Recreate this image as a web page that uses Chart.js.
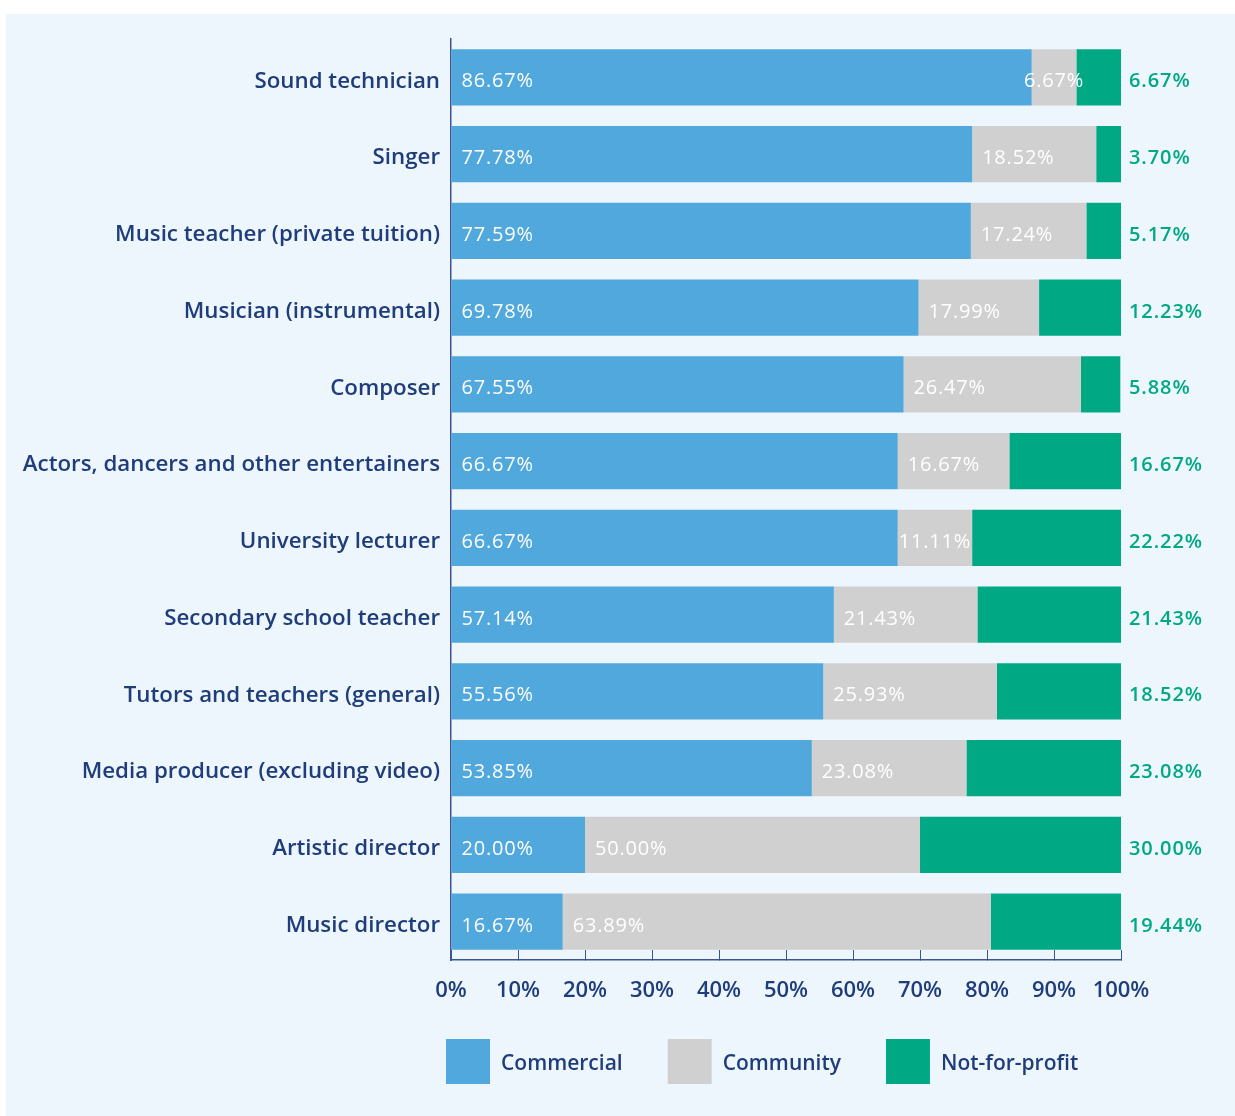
<!DOCTYPE html>
<html>
<head>
<meta charset="utf-8">
<script src="https://cdn.jsdelivr.net/npm/chart.js@4/dist/chart.umd.min.js"></script>
<style>
  html, body { margin: 0; padding: 0; background: #ffffff; }
  body { width: 1235px; height: 1116px; position: relative; overflow: hidden; }
  #panel { position: absolute; left: 6px; top: 14px; width: 1229px; height: 1102px; background: #EEF6FD; }
  canvas { display: block; }
</style>
</head>
<body>
<div id="panel"><canvas id="c" width="1229" height="1102"></canvas></div>
<script>
// Occupations (top to bottom) and the share of each sector, in percent
const categories = [
  'Sound technician',
  'Singer',
  'Music teacher (private tuition)',
  'Musician (instrumental)',
  'Composer',
  'Actors, dancers and other entertainers',
  'University lecturer',
  'Secondary school teacher',
  'Tutors and teachers (general)',
  'Media producer (excluding video)',
  'Artistic director',
  'Music director'
];
const commercial   = [86.67, 77.78, 77.59, 69.78, 67.55, 66.67, 66.67, 57.14, 55.56, 53.85, 20.00, 16.67];
const community    = [ 6.67, 18.52, 17.24, 17.99, 26.47, 16.67, 11.11, 21.43, 25.93, 23.08, 50.00, 63.89];
const notForProfit = [ 6.67,  3.70,  5.17, 12.23,  5.88, 16.67, 22.22, 21.43, 18.52, 23.08, 30.00, 19.44];
const seriesNames  = ['Commercial', 'Community', 'Not-for-profit'];
const xTickValues  = [0, 10, 20, 30, 40, 50, 60, 70, 80, 90, 100];

const NAVY = '#1F3D7A';
const AXIS = '#3A5494';
const COLORS = ['#50A8DC', '#D0D0D0', '#00A984'];
const FONT = "'Open Sans', 'Noto Sans', sans-serif";

const fmt = v => v.toFixed(2) + '%';

// Value labels: inside the first two segments, outside the bar for the last one
const valueLabels = {
  id: 'valueLabels',
  afterDatasetsDraw(chart) {
    const ctx = chart.ctx;
    const area = chart.chartArea;
    ctx.save();
    ctx.textBaseline = 'alphabetic';
    chart.data.datasets.forEach((ds, di) => {
      const meta = chart.getDatasetMeta(di);
      meta.data.forEach((bar, i) => {
        const text = fmt(ds.data[i]);
        const start = Math.min(bar.base, bar.x);
        const end = Math.max(bar.base, bar.x);
        const baseline = bar.y + 10;
        if (di === 2) {
          ctx.font = '600 20px ' + FONT;
          ctx.letterSpacing = '0.9px';
          ctx.fillStyle = COLORS[2];
          ctx.textAlign = 'left';
          ctx.fillText(text, area.right + 8, baseline);
          return;
        }
        ctx.font = '400 20px ' + FONT;
        ctx.letterSpacing = '0.8px';
        ctx.fillStyle = '#ffffff';
        const w = ctx.measureText(text).width;
        if (w + 20 <= end - start) {
          ctx.textAlign = 'left';
          ctx.fillText(text, start + 10, baseline);
        } else {
          ctx.textAlign = 'center';
          ctx.fillText(text, (start + end) / 2, baseline);
        }
      });
    });
    ctx.restore();
  }
};

// Legend row of square swatches under the axis
const swatchLegend = {
  id: 'swatchLegend',
  afterDraw(chart) {
    const ctx = chart.ctx;
    const area = chart.chartArea;
    const box = 44, boxH = 45, gap = 11, spacing = 45;
    const top = area.bottom + 79;
    let x = area.left - 5;
    ctx.save();
    ctx.font = '600 21px ' + FONT;
    ctx.textBaseline = 'alphabetic';
    ctx.textAlign = 'left';
    chart.data.datasets.forEach(ds => {
      ctx.fillStyle = ds.backgroundColor;
      ctx.fillRect(x, top, box, boxH);
      x += box + gap;
      ctx.fillStyle = NAVY;
      ctx.fillText(ds.label, x, top + boxH / 2 + 8);
      x += ctx.measureText(ds.label).width + spacing;
    });
    ctx.restore();
  }
};

new Chart(document.getElementById('c'), {
  type: 'bar',
  data: {
    labels: categories,
    datasets: [
      { label: seriesNames[0], data: commercial,   backgroundColor: COLORS[0] },
      { label: seriesNames[1], data: community,    backgroundColor: COLORS[1] },
      { label: seriesNames[2], data: notForProfit, backgroundColor: COLORS[2] }
    ]
  },
  options: {
    indexAxis: 'y',
    responsive: false,
    animation: false,
    layout: { padding: { top: 25, right: 114, bottom: 96, left: 0 } },
    datasets: { bar: { barPercentage: 0.73, categoryPercentage: 1, borderWidth: 0 } },
    plugins: {
      legend: { display: false },
      tooltip: { enabled: false }
    },
    scales: {
      x: {
        stacked: true,
        min: 0,
        max: 100,
        afterBuildTicks: s => { s.ticks = xTickValues.map(v => ({ value: v })); },
        afterFit: s => { s.height = 60; },
        ticks: {
          callback: v => v + '%',
          color: NAVY,
          padding: 28,
          maxRotation: 0,
          autoSkip: false,
          font: { family: FONT, size: 22, weight: '600' }
        },
        grid: { drawOnChartArea: false, drawTicks: true, tickLength: -10, color: AXIS, lineWidth: 1 },
        border: { display: true, color: AXIS, width: 1.5 }
      },
      y: {
        stacked: true,
        afterFit: s => { s.width = 445; },
        ticks: {
          color: NAVY,
          padding: 11,
          labelOffset: 4,
          font: { family: FONT, size: 22.3, weight: '600' }
        },
        grid: { display: false, drawTicks: false },
        border: { display: true, color: AXIS, width: 1.5 }
      }
    }
  },
  plugins: [valueLabels, swatchLegend]
});
</script>
</body>
</html>
